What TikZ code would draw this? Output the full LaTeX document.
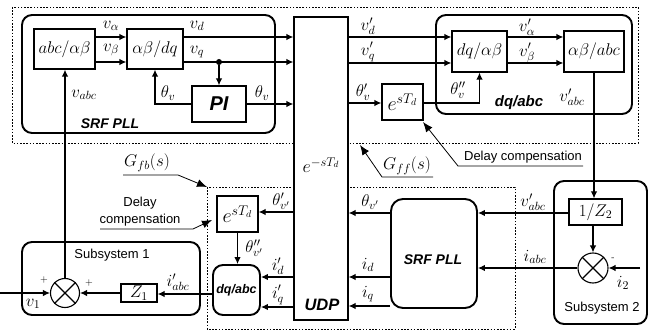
\RequirePackage{fix-cm}
\documentclass[tikz,border=0pt]{standalone}
\usepackage{fontspec}
\setsansfont{Liberation Sans}
\usetikzlibrary{arrows.meta}
\begin{document}
\begin{tikzpicture}[x=1pt,y=-1pt,
  mfont/.style={font=\fontsize{17}{20}\selectfont},
  box/.style={draw,line width=1.2pt,inner sep=0pt,fill=white,mfont},
  rbox/.style={draw,line width=1.9pt,inner sep=0pt,rounded corners=10pt},
  arr/.style={line width=1.2pt,-{Latex[length=7pt,width=6.5pt]}},
  callout/.style={line width=0.8pt,-{Latex[length=10pt,width=8pt]}},
  lab/.style={inner sep=0pt,mfont},
  sflab/.style={inner sep=0pt,font=\fontsize{13}{17}\selectfont\sffamily},
  bilab/.style={inner sep=0pt,font=\fontsize{14}{16}\selectfont\sffamily\bfseries\itshape},
  pmlab/.style={inner sep=0pt,font=\fontsize{10}{12}\selectfont},
  dotbox/.style={line width=0.8pt,dash pattern=on 1.6pt off 1.6pt},
  sumc/.style={draw,circle,line width=1.1pt,inner sep=0pt,minimum size=29pt},
  jdot/.style={fill,circle,inner sep=0pt,minimum size=6pt}
]
\useasboundingbox (0,0) rectangle (658,331);
% dotted regions
\draw[dotbox] (12,7) rectangle (638,143);
\draw[dotbox] (207,187) rectangle (515,329);
% UDP
\node[box,minimum width=54pt,minimum height=303pt] (udp) at (321,168.5) {};
\node[lab,font=\fontsize{18}{20}\selectfont] (eudp) at (321,165) {$e^{-sT_d}$};
\node[inner sep=0pt,font=\fontsize{16.5}{18}\selectfont\sffamily\bfseries\itshape] (udpl) at (322,305) {UDP};
% top-left SRF PLL
\node[rbox,minimum width=253pt,minimum height=118pt] (srf1) at (148.5,74) {};
\node[box,minimum width=61pt,minimum height=40pt] (abc) at (64.5,49) {$abc/\alpha\beta$};
\node[box,minimum width=56pt,minimum height=40pt] (abdq) at (155,49) {$\alpha\beta/dq$};
\node[box,minimum width=54pt,minimum height=36pt,font=\fontsize{20}{22}\selectfont\sffamily\bfseries\itshape] (pi) at (219,104) {PI};
\node[bilab] (srf1l) at (110,124) {SRF PLL};
% top-right dq/abc
\node[rbox,minimum width=196pt,minimum height=99pt] (dqabc1) at (534,64.5) {};
\node[box,minimum width=55pt,minimum height=41pt] (dqab) at (479.5,51.5) {$dq/\alpha\beta$};
\node[box,minimum width=60pt,minimum height=41pt] (ababc) at (594,51.5) {$\alpha\beta/abc$};
\node[inner sep=0pt,font=\fontsize{15}{17}\selectfont\sffamily\bfseries\itshape] (dqabc1l) at (519,103) {dq/abc};
\node[box,minimum width=41pt,minimum height=36pt,font=\fontsize{20}{22}\selectfont] (etd1) at (402.5,102) {$e^{sT_d}$};
% bottom middle
\node[box,minimum width=41pt,minimum height=36pt,font=\fontsize{20}{22}\selectfont] (etd2) at (237.5,214) {$e^{sT_d}$};
\node[rbox,fill=white,minimum width=47pt,minimum height=50pt,font=\fontsize{12.5}{14}\selectfont\sffamily\bfseries\itshape] (dqabc2) at (236.5,290) {dq/abc};
\node[rbox,minimum width=86pt,minimum height=109pt,rounded corners=12pt] (srf2) at (434,253.5) {};
\node[bilab] (srf2l) at (433,260) {SRF PLL};
% subsystem 1
\node[rbox,minimum width=178pt,minimum height=73pt] (sub1) at (111,278.5) {};
\node[sflab] (sub1l) at (112,255) {Subsystem 1};
\node[box,minimum width=36pt,minimum height=18pt] (z1) at (139,293) {$Z_1$};
\node[sumc] (s1) at (65,293) {};
\draw[line width=1.1pt] (s1.north west) -- (s1.south east) (s1.north east) -- (s1.south west);
% subsystem 2
\node[rbox,minimum width=93pt,minimum height=143pt] (sub2) at (600.5,252.5) {};
\node[sflab] (sub2l) at (602,308) {Subsystem 2};
\node[box,minimum width=53pt,minimum height=26pt] (z2) at (595.5,212) {$1/Z_2$};
\node[sumc,minimum size=30pt] (s2) at (593,268) {};
\draw[line width=1.1pt] (s2.north west) -- (s2.south east) (s2.north east) -- (s2.south west);
\coordinate (v1in) at (0,293);
\coordinate (i2in) at (640,268);

% connectors top-left
\draw[arr] (abc.east |- 0,37) -- (abdq.west |- 0,37);
\draw[arr] (abc.east |- 0,62) -- (abdq.west |- 0,62);
\draw[arr] (abdq.east |- 0,37) -- (udp.west |- 0,37);
\draw[arr] (abdq.east |- 0,62) -- (udp.west |- 0,62);
\node[jdot] (jq) at (pi.north |- 0,62) {};
\draw[arr] (jq) -- (pi.north);
\draw[arr] (pi.east) -- (udp.west |- pi.east);
\draw[arr] (pi.west) -| (abdq.south);
\draw[arr] (s1.north) -- (s1.north |- abc.south);
% connectors top-right
\draw[arr] (udp.east |- 0,37) -- (dqab.west |- 0,37);
\draw[arr] (udp.east |- 0,63) -- (dqab.west |- 0,63);
\draw[arr] (dqab.east |- 0,37) -- (ababc.west |- 0,37);
\draw[arr] (dqab.east |- 0,63) -- (ababc.west |- 0,63);
\draw[arr] (udp.east |- 0,103) -- (etd1.west |- 0,103);
\draw[arr] (etd1.east |- 0,103) -| (dqab.south);
\draw[arr] (ababc.south) -- (ababc.south |- z2.north);
% connectors bottom-right
\draw[arr] (z2.west |- 0,213) -- (srf2.east |- 0,213);
\draw[arr] (s2.north |- z2.south) -- (s2.north);
\draw[arr] (s2.west) -- (srf2.east |- s2.west);
\draw[arr] (i2in) -- (s2.east);
\draw[arr] (srf2.west |- 0,213) -- (udp.east |- 0,213);
\draw[arr] (srf2.west |- 0,277) -- (udp.east |- 0,277);
\draw[arr] (srf2.west |- 0,306) -- (udp.east |- 0,306);
% connectors bottom-left
\draw[arr] (udp.west |- 0,212) -- (etd2.east |- 0,212);
\draw[arr] (etd2.south) -- (etd2.south |- dqabc2.north);
\draw[arr] (udp.west |- 0,277) -- (dqabc2.east |- 0,277);
\draw[arr] (udp.west |- 0,307) -- (dqabc2.east |- 0,307);
\draw[arr] (dqabc2.west |- 0,294) -- (z1.east |- 0,294);
\draw[arr] (z1.west) -- (s1.east);
\draw[arr] (v1in) -- (s1.west);

% callouts
\coordinate (dcra) at (583,166);
\coordinate (dcrb) at (458,166);
\coordinate (dcrt) at (423,122);
\draw[callout] (dcra) -- (dcrb) -- (dcrt);
\node[sflab] (dcrl) at (523,157) {Delay compensation};
\coordinate (gffa) at (433,177);
\coordinate (gffb) at (382,177);
\coordinate (gfft) at (360,145);
\draw[callout] (gffa) -- (gffb) -- (gfft);
\node[lab] (gffl) at (407,166) {$G_{ff}(s)$};
\coordinate (gfba) at (123,175);
\coordinate (gfbb) at (178,175);
\coordinate (gfbt) at (207,187);
\draw[callout] (gfba) -- (gfbb) -- (gfbt);
\node[lab] (gfbl) at (147,163) {$G_{fb}(s)$};
\coordinate (dcla) at (100,229);
\coordinate (dclb) at (193,229);
\coordinate (dclt) at (212,220);
\draw[callout] (dcla) -- (dclb) -- (dclt);
\node[sflab,align=center] (dcll) at (140,211.5) {Delay\\compensation};

% labels
\node[lab] (lva) at (111,26) {$v_\alpha$};
\node[lab] (lvb) at (111,50) {$v_\beta$};
\node[lab] (lvd) at (197,26) {$v_d$};
\node[lab] (lvq) at (197,52) {$v_q$};
\node[lab] (lth1) at (168,93) {$\theta_v$};
\node[lab] (lth2) at (262,93) {$\theta_v$};
\node[lab] (lvabc) at (84,95) {$v_{abc}$};
\node[lab] (lvdp) at (368,26) {$v'_d$};
\node[lab] (lvqp) at (368,52) {$v'_q$};
\node[lab] (lvap) at (527,27) {$v'_\alpha$};
\node[lab] (lvbp) at (527,53) {$v'_\beta$};
\node[lab] (lthp) at (363,92) {$\theta'_v$};
\node[lab] (lthpp) at (458,90) {$\theta''_v$};
\node[lab] (lvabcp1) at (572,97) {$v'_{abc}$};
\node[lab] (lvabcp2) at (533,202) {$v'_{abc}$};
\node[lab] (liabc) at (535,257) {$i_{abc}$};
\node[lab] (lthvp) at (370,202) {$\theta_{v'}$};
\node[lab] (lid) at (368,265) {$i_d$};
\node[lab] (liq) at (368,294) {$i_q$};
\node[lab] (lthpvp) at (281,201) {$\theta'_{v'}$};
\node[lab] (lthppvp) at (254,248) {$\theta''_{v'}$};
\node[lab] (lidp) at (278,266) {$i'_d$};
\node[lab] (liqp) at (278,295) {$i'_q$};
\node[lab] (liabcp) at (178,282) {$i'_{abc}$};
\node[lab] (lv1) at (33,304) {$v_1$};
\node[lab] (li2) at (623,283) {$i_2$};
\node[pmlab] (lp1) at (44,280) {$+$};
\node[pmlab] (lp2) at (89,283) {$+$};
\node[pmlab] (lm2) at (613,259) {-};
\end{tikzpicture}
\end{document}
